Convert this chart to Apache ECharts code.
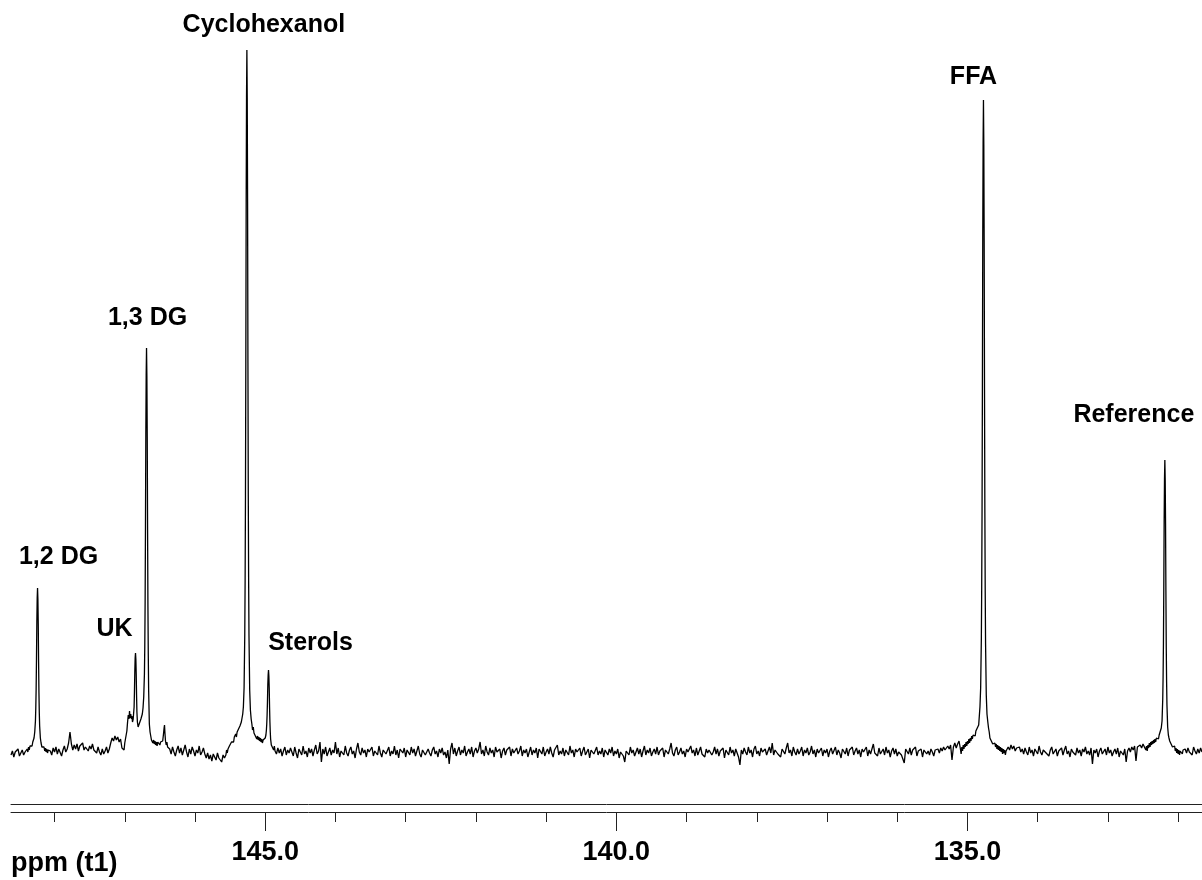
<!DOCTYPE html>
<html>
<head>
<meta charset="utf-8">
<title>31P NMR spectrum</title>
<script src="https://cdn.jsdelivr.net/npm/echarts@6/dist/echarts.min.js"></script>
<style>
  html, body { margin: 0; padding: 0; background: #fff; }
  #chart { width: 1202px; height: 880px; }
</style>
</head>
<body>
<div id="chart"></div>
<script>
// Baseline trace: one sample every ppmStep, starting at ppmStart and running upfield.
// null marks the stretches that are covered by the finer peak traces below.
const ppmStart = 148.62;
const ppmStep = 0.02;
const baseline = [
  -3, 1, -5, 0, -2, 3, -4, -1, 2, -3, 0, null, null, null, null, null, null, null, null, null,
  null, null, null, null, null, null, null, null, 1, -3, 4, 0, 5, -2, 3, 1, -4, 2, 6, 0,
  3, 9, 20, 8, 2, 7, 3, 8, 1, 6, 4, 9, 2, 5, 7, 1, 6, 3, 8, 2,
  4, -1, 5, 0, -3, 3, -2, 1, 5, -1, 3, 9, 14, 11, 16, 12, 15, 10, 13, 4,
  null, null, null, null, null, null, null, null, null, null, null, null, null, null, null, null, null, null, null, null,
  null, null, null, null, null, null, null, null, null, null, null, null, null, 3, -2, 5, 0, -4, 2, 6,
  -1, 4, -3, 2, 7, 0, -5, 3, -2, 5, 1, -4, 2, -1, 6, -3, 0, 4, -2, -6,
  -1, -7, -3, -9, -2, -5, -8, -1, -6, -4, -10, -3, -6, null, null, null, null, null, null, null,
  null, null, null, null, null, null, null, null, null, null, null, null, null, null, null, null, null, null, null, null,
  null, null, null, null, null, null, null, null, null, -2, 4, -1, 3, -4, 1, 5, -3, 2, -1, 4,
  2, -4, 5, -1, -6, 3, 0, -3, 6, -2, 1, -5, 4, -1, 3, -4, 2, 7, -2, 1,
  10, -10, 3, -2, 5, -4, 0, 4, -3, 2, -1, 10, -2, 4, -5, 1, 3, -3, 6, -1,
  -4, 2, 5, -2, 1, -6, 3, 9, 0, -3, 4, -1, 2, -5, 3, 0, -2, 5, -4, 1,
  3, -3, 6, -1, -5, 2, 4, -2, 0, 5, -4, 1, -2, 6, -3, 2, -6, 3, 1, -1,
  4, -5, 2, 0, -3, 5, -1, 3, -4, 1, 6, -2, -5, 2, 4, -3, 0, 3, -1, -4,
  2, 5, -2, 1, -5, 3, -1, 4, -3, 0, -6, 2, -12, 3, 9, -2, 4, -4, 1, 5,
  -3, 2, -1, 6, -4, 0, 3, -2, 5, -5, 1, 4, -1, 3, 10, -2, 2, -4, 6, 0,
  -3, 4, -1, 2, -5, 5, 0, -2, 3, -6, 1, 4, -3, 2, 0, 5, -4, 3, -1, -3,
  4, -2, 1, 6, -4, 2, -1, 3, -5, 0, 5, -3, 2, -1, 4, -6, 3, 1, -2, 5,
  -4, 0, 3, -2, 5, -1, -5, 2, 4, 7, -3, 1, -2, 4, -4, 2, 0, -3, 6, -1,
  2, -5, 3, 0, -2, 4, -4, 1, 5, -3, -1, 3, -6, 2, 4, -2, 0, 5, -3, 1,
  -2, 4, -5, 2, 0, -3, 3, -1, 5, -4, 1, -2, 3, -6, 0, 2, -4, -10, 1, 3,
  -3, 5, -1, 2, -4, 0, 4, -2, 3, -5, 1, 6, -3, 2, -1, 4, -4, 0, 3, -2,
  5, -3, 1, -1, 4, -5, 2, 0, -2, 3, 9, -1, -4, 2, 5, -3, 0, 4, -2, 1,
  -5, 3, 0, -2, 6, -1, 2, -4, 4, -3, 1, 5, -2, 0, -5, 3, -1, 2, 4, -3,
  0, 5, -2, 3, -4, 1, -1, 4, -6, 2, 0, -3, 5, -1, 2, -4, 3, 1, -5, -13,
  2, -2, 4, 0, -3, 5, -1, 2, -5, 3, 6, -2, 1, -4, 4, 0, -2, 3, -3, 1,
  5, -1, 9, -3, 2, 4, -2, 0, -5, 3, 1, -2, 4, 9, -1, 2, -4, 5, 0, -3,
  3, -2, 1, 5, -4, 2, -1, 4, -3, 0, 6, -2, 2, -5, 3, -1, 1, 4, -4, 2,
  -1, 3, -5, 1, 4, -2, 0, 5, -3, 2, -1, -6, 3, 1, -2, 4, -4, 2, 0, 5,
  -3, 1, 4, -2, 2, -5, 3, 0, -1, 5, -4, 2, -2, 3, 8, -1, 1, -4, 4, -2,
  0, 3, -3, 5, -1, 2, -5, 1, 4, -2, 3, -4, 0, 2, -3, -1, -11, 3, 1, -2,
  4, -3, 2, 0, 5, -4, 1, -1, 3, -5, 2, 4, -2, 1, -3, 3, 0, -4, 2, 1,
  3, -1, 4, 1, 5, 2, 0, 6, 3, 7, -8, 5, 9, 4, 8, 11, null, null, null, null,
  null, null, null, null, null, null, null, null, null, null, null, null, null, null, null, null, null, null, null, null,
  null, null, null, null, null, null, null, null, null, null, 5, 2, 7, 3, 6, 1, 4, 2, 5, 0,
  3, -2, 4, 0, -3, 5, -1, 2, -4, 3, 1, -2, 6, 0, -3, 2, 4, -1, 1, -4,
  2, 5, -2, 0, 3, -4, 1, -1, 4, -3, 2, 6, -2, 1, -5, 3, 0, 2, -3, 4,
  -1, 2, -4, 3, 0, 5, -2, 1, -3, 4, -12, 2, -1, 3, -5, 1, 4, -2, 0, 3,
  -3, 5, -1, 2, -4, 0, 3, -2, 4, -5, 1, 2, -3, 3, -10, 1, 4, 0, 5, 2,
  6, -9, 5, 3, 7, 4, 8, 6, null, null, null, null, null, null, null, null, null, null, null, null,
  null, null, null, null, null, null, null, null, null, null, null, null, null, null, null, null, 3, -1, 4, 0,
  2, -3, 5, 1, -2, 3, -1, 4, 0
];

// Peak traces, [ppm, intensity]
const peak12DG = [
  [148.40, -2], [148.39, 3], [148.38, 0], [148.37, 5], [148.36, 2], [148.35, 6], [148.34, 4], [148.33, 8],
  [148.32, 6], [148.31, 10], [148.30, 9], [148.292, 14], [148.282, 20], [148.272, 31], [148.267, 44],
  [148.262, 63], [148.257, 93], [148.252, 130], [148.247, 154], [148.242, 164], [148.237, 153],
  [148.232, 128], [148.227, 90], [148.222, 59], [148.217, 39], [148.212, 26], [148.202, 14], [148.192, 9],
  [148.18, 5], [148.17, 7], [148.16, 3], [148.15, 5], [148.14, 1], [148.13, 4], [148.12, 0], [148.11, 3],
  [148.10, -1], [148.09, 2], [148.08, 0]
];
const peakUK13DG = [
  [147.02, 6], [147.01, 2], [147.00, 9], [146.99, 13], [146.98, 11], [146.97, 21], [146.96, 30], [146.95, 37],
  [146.94, 33], [146.932, 41], [146.925, 34], [146.915, 38], [146.905, 33], [146.898, 36], [146.89, 30],
  [146.88, 33], [146.874, 31], [146.867, 45], [146.862, 60], [146.857, 80], [146.852, 94], [146.847, 99],
  [146.842, 93], [146.837, 78], [146.832, 57], [146.827, 40], [146.82, 30], [146.81, 25], [146.80, 27],
  [146.79, 29], [146.78, 31], [146.77, 33], [146.76, 34], [146.75, 38], [146.74, 44], [146.73, 55],
  [146.72, 78], [146.715, 105], [146.71, 150], [146.705, 226], [146.70, 318], [146.695, 377], [146.69, 404],
  [146.685, 376], [146.68, 315], [146.675, 222], [146.67, 145], [146.665, 97], [146.66, 62], [146.65, 28],
  [146.64, 20], [146.63, 16], [146.62, 12], [146.61, 14], [146.60, 9], [146.59, 12], [146.58, 8], [146.57, 11],
  [146.56, 7], [146.55, 10], [146.54, 6], [146.53, 10], [146.52, 8], [146.51, 11], [146.50, 7], [146.49, 10],
  [146.48, 8], [146.47, 12], [146.46, 11], [146.45, 17], [146.44, 24], [146.434, 27], [146.428, 19],
  [146.42, 11], [146.41, 7], [146.40, 10], [146.39, 5], [146.38, 7]
];
const peakCyclohexanolSterols = [
  [145.56, -3], [145.55, 2], [145.54, -1], [145.53, 3], [145.52, 1], [145.51, 6], [145.50, 8], [145.49, 5],
  [145.48, 10], [145.47, 8], [145.46, 12], [145.45, 10], [145.44, 15], [145.43, 13], [145.42, 18],
  [145.41, 15], [145.40, 20], [145.39, 18], [145.38, 23], [145.37, 21], [145.36, 26], [145.35, 24],
  [145.34, 30], [145.33, 31], [145.32, 38], [145.311, 45], [145.301, 64], [145.291, 118], [145.286, 172],
  [145.281, 257], [145.276, 390], [145.271, 551], [145.266, 655], [145.261, 702], [145.256, 654],
  [145.251, 550], [145.246, 389], [145.241, 256], [145.236, 171], [145.231, 116], [145.221, 62],
  [145.211, 42], [145.20, 33], [145.19, 28], [145.18, 22], [145.17, 25], [145.16, 19], [145.15, 21],
  [145.14, 16], [145.13, 18], [145.12, 13], [145.11, 16], [145.10, 12], [145.09, 15], [145.08, 11],
  [145.07, 14], [145.06, 10], [145.05, 13], [145.04, 9], [145.03, 12], [145.02, 10], [145.01, 13],
  [145.00, 14], [144.99, 17], [144.983, 22], [144.978, 28], [144.973, 37], [144.968, 50], [144.963, 67],
  [144.958, 77], [144.953, 82], [144.948, 76], [144.943, 64], [144.938, 45], [144.933, 30], [144.928, 20],
  [144.923, 13], [144.913, 7], [144.90, 5], [144.89, 8], [144.88, 2], [144.87, 6], [144.86, 1]
];
const peakFFA = [
  [135.10, 3], [135.09, -2], [135.08, 5], [135.07, 1], [135.06, 7], [135.05, 3], [135.04, 8], [135.03, 5],
  [135.02, 10], [135.01, 6], [135.00, 11], [134.99, 8], [134.98, 13], [134.97, 9], [134.96, 14], [134.95, 11],
  [134.94, 16], [134.93, 13], [134.92, 17], [134.91, 15], [134.90, 19], [134.89, 16], [134.88, 21],
  [134.87, 19], [134.86, 24], [134.85, 22], [134.84, 27], [134.83, 29], [134.822, 45], [134.812, 64],
  [134.802, 114], [134.797, 165], [134.792, 243], [134.787, 366], [134.782, 514], [134.777, 609],
  [134.772, 652], [134.767, 607], [134.762, 511], [134.757, 362], [134.752, 239], [134.747, 160],
  [134.742, 108], [134.732, 57], [134.722, 38], [134.71, 30], [134.70, 24], [134.69, 20], [134.68, 14],
  [134.67, 16], [134.66, 11], [134.65, 13], [134.64, 8], [134.63, 10], [134.62, 6], [134.61, 9], [134.60, 5],
  [134.59, 8], [134.58, 3], [134.57, 7], [134.56, 2], [134.55, 6], [134.54, 1], [134.53, 5], [134.52, 0],
  [134.51, 4], [134.50, -2], [134.49, 3], [134.48, -1], [134.47, 2], [134.46, -3], [134.45, 1], [134.44, -1]
];
const peakReference = [
  [132.46, 2], [132.45, 6], [132.44, 1], [132.43, 7], [132.42, 4], [132.41, 9], [132.40, 5], [132.39, 10],
  [132.38, 7], [132.37, 11], [132.36, 8], [132.35, 12], [132.34, 9], [132.33, 13], [132.32, 10], [132.31, 14],
  [132.30, 12], [132.29, 15], [132.28, 13], [132.27, 17], [132.26, 16], [132.25, 19], [132.24, 24],
  [132.229, 31], [132.219, 53], [132.214, 75], [132.209, 109], [132.204, 164], [132.199, 230], [132.194, 273],
  [132.189, 292], [132.184, 272], [132.179, 228], [132.174, 161], [132.169, 105], [132.164, 70], [132.159, 47],
  [132.149, 25], [132.139, 17], [132.13, 14], [132.12, 11], [132.11, 12], [132.10, 8], [132.09, 10],
  [132.08, 5], [132.07, 7], [132.06, 3], [132.05, 6], [132.04, 1], [132.03, 4], [132.02, -1], [132.01, 3],
  [132.00, -2], [131.99, 2], [131.98, -3], [131.97, 1], [131.96, -1], [131.95, 3], [131.94, -2], [131.93, 2],
  [131.92, 0]
];

// Assigned signals
const peakNames = ['1,2 DG', 'UK', '1,3 DG', 'Cyclohexanol', 'Sterols', 'FFA', 'Reference'];
const peakPpm = [148.242, 146.847, 146.690, 145.261, 144.953, 134.772, 132.189];

// Displayed window (ppm) and the scale's tick spacing
const axisMin = 131.66;
const axisMax = 148.62;
const scaleMin = 130;
const scaleMax = 150;
const minorStep = 1;
const majorStep = 5;

// ---- build the trace ----
const trace = baseline
  .map((v, i) => (v === null ? null : [+(ppmStart - i * ppmStep).toFixed(3), v]))
  .filter(Boolean)
  .concat(peak12DG, peakUK13DG, peakCyclohexanolSterols, peakFFA, peakReference)
  .sort((a, b) => b[0] - a[0]);

// label anchors sit on the top of each peak in the trace
const labelPoints = peakNames.map((name, k) => {
  const top = trace.find(p => Math.abs(p[0] - peakPpm[k]) < 1e-6);
  return { name: name, value: [peakPpm[k], top[1]] };
});

// text placement relative to each peak top (px)
const labelOffsets = {
  '1,2 DG': [21, -31],
  'UK': [-21, -24],
  '1,3 DG': [1, -30],
  'Cyclohexanol': [17, -25],
  'Sterols': [42, -27],
  'FFA': [-10, -23],
  'Reference': [-31, -45]
};

const FONT = '"Liberation Sans", Arial, Helvetica, sans-serif';
const axisColor = '#222';

// plot box in pixels
const W = 1202;
const plotLeft = 11, plotRight = 0, plotTop = 48, plotBottom = 76;
const rulerGap = 8;

// The tick strips run over whole 5-ppm steps (130 to 150); their box is widened past
// the canvas so that the ppm-to-pixel mapping is identical to the spectrum's axis.
const pxPerPpm = (W - plotLeft - plotRight) / (axisMax - axisMin);
const stripLeft = plotLeft - (scaleMax - axisMax) * pxPerPpm;
const stripRight = plotRight - (axisMin - scaleMin) * pxPerPpm;
const stripBottom = plotBottom - rulerGap;

const chart = echarts.init(document.getElementById('chart'), null, { renderer: 'canvas' });

const ruleAxis = {
  type: 'value',
  inverse: true,
  min: axisMin,
  max: axisMax,
  position: 'bottom',
  splitLine: { show: false },
  axisLabel: { show: false },
  axisTick: { show: false },
  axisLine: { show: true, onZero: false, lineStyle: { color: axisColor, width: 1 } }
};
const tickAxis = (gridIndex, step, len, withLabels) => ({
  type: 'value',
  gridIndex: gridIndex,
  inverse: true,
  min: scaleMin,
  max: scaleMax,
  interval: step,
  position: 'bottom',
  splitLine: { show: false },
  axisLine: { show: false, onZero: false },
  axisTick: { show: true, inside: false, length: len, lineStyle: { color: axisColor, width: 1 } },
  axisLabel: withLabels ? {
    show: true, margin: 27,
    formatter: v => Number(v).toFixed(1),
    color: '#000', fontFamily: FONT, fontWeight: 'bold', fontSize: 27
  } : { show: false }
});
const stripY = { type: 'value', min: 0, max: 1, show: false };
const stripGrid = {
  left: stripLeft, right: stripRight, top: 700, bottom: stripBottom,
  containLabel: false, outerBoundsMode: 'none'
};

chart.setOption({
  animation: false,
  backgroundColor: '#fff',
  grid: [
    { left: plotLeft, right: plotRight, top: plotTop, bottom: plotBottom,
      containLabel: false, outerBoundsMode: 'none' },
    Object.assign({}, stripGrid),
    Object.assign({}, stripGrid)
  ],
  xAxis: [
    // double rule under the spectrum
    Object.assign({ gridIndex: 0 }, ruleAxis),
    Object.assign({ gridIndex: 0, offset: rulerGap }, ruleAxis),
    // 1 ppm ticks
    tickAxis(1, minorStep, 10, false),
    // 5 ppm ticks with labels
    tickAxis(2, majorStep, 19, true)
  ],
  yAxis: [
    { type: 'value', gridIndex: 0, min: -52, max: 704, show: false },
    Object.assign({ gridIndex: 1 }, stripY),
    Object.assign({ gridIndex: 2 }, stripY)
  ],
  series: [
    {
      type: 'line',
      xAxisIndex: 0,
      yAxisIndex: 0,
      data: trace,
      symbol: 'none',
      showSymbol: false,
      lineStyle: { color: '#000', width: 1.3 },
      silent: true,
      clip: true
    },
    {
      type: 'scatter',
      xAxisIndex: 0,
      yAxisIndex: 0,
      symbolSize: 0,
      silent: true,
      itemStyle: { opacity: 1 },
      data: labelPoints.map(p => ({
        name: p.name,
        value: p.value,
        label: { offset: labelOffsets[p.name] }
      })),
      label: {
        show: true,
        position: 'inside',
        formatter: p => p.name,
        color: '#000',
        opacity: 1,
        fontFamily: FONT,
        fontWeight: 'bold',
        fontSize: 25
      }
    }
  ],
  graphic: [
    {
      type: 'text',
      left: 11,
      top: 850,
      style: { text: 'ppm (t1)', fill: '#000', font: 'bold 27px ' + FONT }
    }
  ]
});
</script>
</body>
</html>
